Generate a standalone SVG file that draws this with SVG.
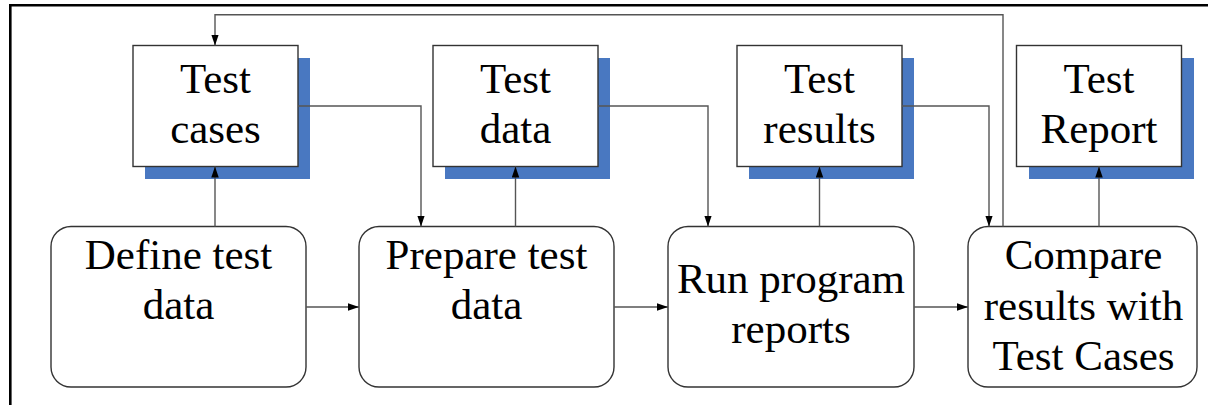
<svg xmlns="http://www.w3.org/2000/svg" width="1208" height="405" viewBox="0 0 1208 405">
  <style>
    .frame { fill: none; stroke: #000; stroke-width: 2.6; }
    .shadow { fill: #4978c1; }
    .doc { fill: #fff; stroke: #333; stroke-width: 1.4; }
    .step { fill: #fff; stroke: #333; stroke-width: 1.4; }
    .lbl { font-family: "Liberation Serif", "Times New Roman", serif; font-size: 43px; fill: #000; text-anchor: middle; }
    .wire { fill: none; stroke: #555; stroke-width: 1.4; marker-end: url(#head); }
  </style>
  <defs>
    <marker id="head" markerUnits="userSpaceOnUse" markerWidth="11" markerHeight="8" refX="11" refY="3.75" orient="auto">
      <path d="M0,0 L11,3.75 L0,7.5 z" fill="#000"/>
    </marker>
  </defs>

  <rect width="1208" height="405" fill="#fff"/>
  <!-- outer frame: top and left edges only -->
  <path class="frame" d="M10.3,405 V5.3 H1208"/>

  <!-- document nodes -->
  <g id="test-cases">
    <rect class="shadow" x="145" y="58" width="165" height="121"/>
    <rect class="doc" x="133" y="45.5" width="165" height="121"/>
    <text class="lbl" x="215.5" y="93">Test</text>
    <text class="lbl" x="215.5" y="143">cases</text>
  </g>
  <g id="test-data">
    <rect class="shadow" x="445" y="58" width="165" height="121"/>
    <rect class="doc" x="433" y="45.5" width="165" height="121"/>
    <text class="lbl" x="515.5" y="93">Test</text>
    <text class="lbl" x="515.5" y="143">data</text>
  </g>
  <g id="test-results">
    <rect class="shadow" x="749" y="58" width="165" height="121"/>
    <rect class="doc" x="737" y="45.5" width="165" height="121"/>
    <text class="lbl" x="819.5" y="93">Test</text>
    <text class="lbl" x="819.5" y="143">results</text>
  </g>
  <g id="test-report">
    <rect class="shadow" x="1029" y="58" width="165" height="121"/>
    <rect class="doc" x="1016.5" y="45.5" width="165" height="121"/>
    <text class="lbl" x="1099" y="93">Test</text>
    <text class="lbl" x="1099" y="143">Report</text>
  </g>

  <!-- process steps -->
  <g id="define-test-data">
    <rect class="step" x="51" y="226.5" width="255" height="160.5" rx="20" ry="20"/>
    <text class="lbl" x="178.5" y="269">Define test</text>
    <text class="lbl" x="178.5" y="319">data</text>
  </g>
  <g id="prepare-test-data">
    <rect class="step" x="359" y="226.5" width="255" height="160.5" rx="20" ry="20"/>
    <text class="lbl" x="486.5" y="269">Prepare test</text>
    <text class="lbl" x="486.5" y="319">data</text>
  </g>
  <g id="run-program">
    <rect class="step" x="668" y="226.5" width="246" height="160.5" rx="20" ry="20"/>
    <text class="lbl" x="791" y="293">Run program</text>
    <text class="lbl" x="791" y="343">reports</text>
  </g>
  <g id="compare-results">
    <rect class="step" x="968" y="226.5" width="229" height="160.5" rx="20" ry="20"/>
    <text class="lbl" x="1083.5" y="269">Compare</text>
    <text class="lbl" x="1083.5" y="320">results with</text>
    <text class="lbl" x="1083.5" y="370">Test Cases</text>
  </g>

  <!-- connectors -->
  <g id="connectors">
    <path class="wire" d="M215,226.5 V166.5"/>
    <path class="wire" d="M298,106 H421 V226.5"/>
    <path class="wire" d="M515.5,226.5 V166.5"/>
    <path class="wire" d="M598,106 H708 V226.5"/>
    <path class="wire" d="M819.5,226.5 V166.5"/>
    <path class="wire" d="M902,106 H989 V226.5"/>
    <path class="wire" d="M1003,226.5 V14.8 H215 V45.5"/>
    <path class="wire" d="M1099,226.5 V166.5"/>
    <path class="wire" d="M306,307 H359"/>
    <path class="wire" d="M614,307 H668"/>
    <path class="wire" d="M914,307 H968"/>
  </g>
</svg>
